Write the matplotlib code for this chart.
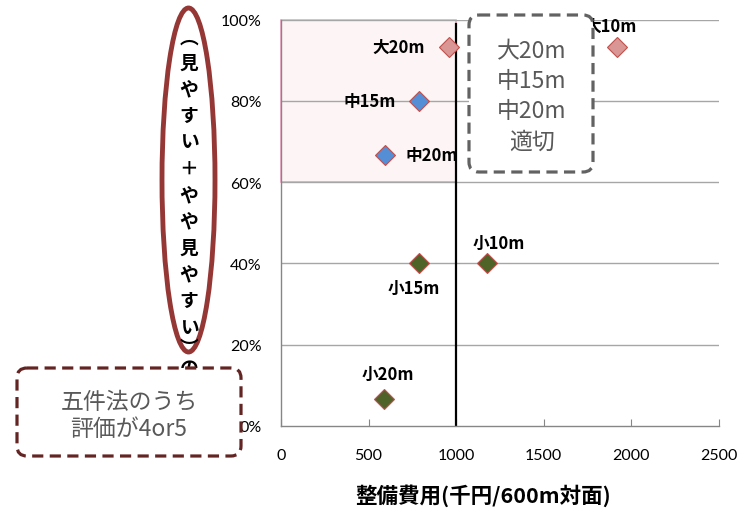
import matplotlib.pyplot as plt
import matplotlib.patches as mpatches
import matplotlib.transforms as mtransforms
from matplotlib.ticker import PercentFormatter

plt.rcParams['font.family'] = ['Noto Sans CJK JP', 'DejaVu Sans']

# --- data ---
labels = ['大10m', '大20m', '中15m', '中20m', '小10m', '小15m', '小20m']
cost = [1920, 960, 790, 595, 1175, 785, 590]          # 千円/600m対面
share = [0.933, 0.933, 0.80, 0.667, 0.40, 0.40, 0.067]  # 見やすい+やや見やすい
groups = ['大', '大', '中', '中', '小', '小', '小']

face = {'大': '#d99694', '中': '#558ed5', '小': '#4f6228'}
# label offsets in pixels (dx, dy up) and alignment
offsets = {'大10m': (-7, 21, 'center'), '大20m': (-24, 0, 'right'),
           '中15m': (-24, 0, 'right'), '中20m': (20, 0, 'left'),
           '小10m': (12, 20, 'center'), '小15m': (-5, -25, 'center'),
           '小20m': (3, 25, 'center')}

x_ticks = [0, 500, 1000, 1500, 2000, 2500]
y_ticks = [0, 0.2, 0.4, 0.6, 0.8, 1.0]

W, H = 749, 510
fig = plt.figure(figsize=(W / 100, H / 100), dpi=100)
ax = fig.add_axes([281 / W, 1 - 427 / H, 438 / W, 406.5 / H])

# pixel coordinates measured from the top-left corner of the figure
pix = mtransforms.Affine2D().scale(1, -1).translate(0, H)

# shaded "appropriate" zone
ax.add_patch(mpatches.Rectangle((0, 0.6), 1000, 0.4, facecolor='#fdf5f5',
                                edgecolor='#f7a1c4', lw=1.2, zorder=0.5,
                                clip_on=False))

for y in y_ticks[1:]:
    ax.axhline(y, color='#a6a6a6', lw=1, zorder=1)
ax.axvline(1000, ymin=0, ymax=0.99, color='black', lw=1.6, zorder=2)

for lab, xv, yv, g in zip(labels, cost, share, groups):
    ax.plot(xv, yv, marker='D', ms=10, mfc=face[g], mec='#c0504d', mew=0.8,
            ls='none', zorder=3)
    dx, dy, ha = offsets[lab]
    ax.annotate(lab, (xv, yv), xytext=(dx * 0.72, dy * 0.72),
                textcoords='offset points', ha=ha, va='center',
                fontsize=12, fontweight='bold', zorder=4)

ax.set_xlim(0, 2500)
ax.set_ylim(0, 1)
ax.set_xticks(x_ticks)
ax.set_yticks(y_ticks)
ax.yaxis.set_major_formatter(PercentFormatter(1.0, decimals=0))
ax.tick_params(axis='x', direction='in', length=5, color='#868686',
               pad=16, labelsize=11.5)
ax.tick_params(axis='y', length=0, pad=14, labelsize=11.5)
for t in ax.get_xticklabels() + ax.get_yticklabels():
    t.set_family(['Lato', 'DejaVu Sans'])
for s in ['top', 'right']:
    ax.spines[s].set_visible(False)
for s in ['left', 'bottom']:
    ax.spines[s].set_color('#868686')
    ax.spines[s].set_linewidth(1)

fig.text(483 / W, 1 - 496 / H, '整備費用(千円/600m対面)', ha='center',
         va='center', fontsize=15.5, fontweight='bold')

# vertical y-axis title, one character per row
ylab = ['︵', '見', 'や', 'す', 'い', '＋', 'や', 'や', '見', 'や', 'す', 'い',
        '︶', 'の']
ypos = [38, 63, 89.5, 116, 142.5, 169, 195.5, 222, 248.5, 275, 301.5, 328,
        348, 368]
for ch, yp in zip(ylab, ypos):
    fig.text(189 / W, 1 - yp / H, ch, ha='center', va='center',
             fontsize=13.5, fontweight='bold')

fig.add_artist(mpatches.Ellipse((188.5, 181), 53, 344, transform=pix,
                                fill=False, edgecolor='#953735', lw=3.5))

# note boxes
note1 = mpatches.FancyBboxPatch((17, 369), 224, 88, transform=pix,
                                boxstyle='round,pad=0,rounding_size=10',
                                facecolor='white', edgecolor='#632523',
                                lw=2.3, ls=(0, (3.5, 2)), zorder=5)
fig.add_artist(note1)
fig.text(129 / W, 1 - 403 / H, '五件法のうち', ha='center', va='center',
         fontsize=16.5, color='#595959', zorder=6)
fig.text(129 / W, 1 - 430 / H, '評価が4or5', ha='center', va='center',
         fontsize=16.5, color='#595959', zorder=6)

note2 = mpatches.FancyBboxPatch((469, 16), 124, 157, transform=pix,
                                boxstyle='round,pad=0,rounding_size=10',
                                facecolor='white', edgecolor='#626262',
                                lw=2.3, ls=(0, (3.5, 2)), zorder=5)
fig.add_artist(note2)
for i, line in enumerate(['大20m', '中15m', '中20m', '適切']):
    fig.text(532 / W, 1 - (52 + 30 * i) / H, line, ha='center', va='center',
             fontsize=16.5, color='#595959', zorder=6)

fig.savefig('out.png', dpi=100)
